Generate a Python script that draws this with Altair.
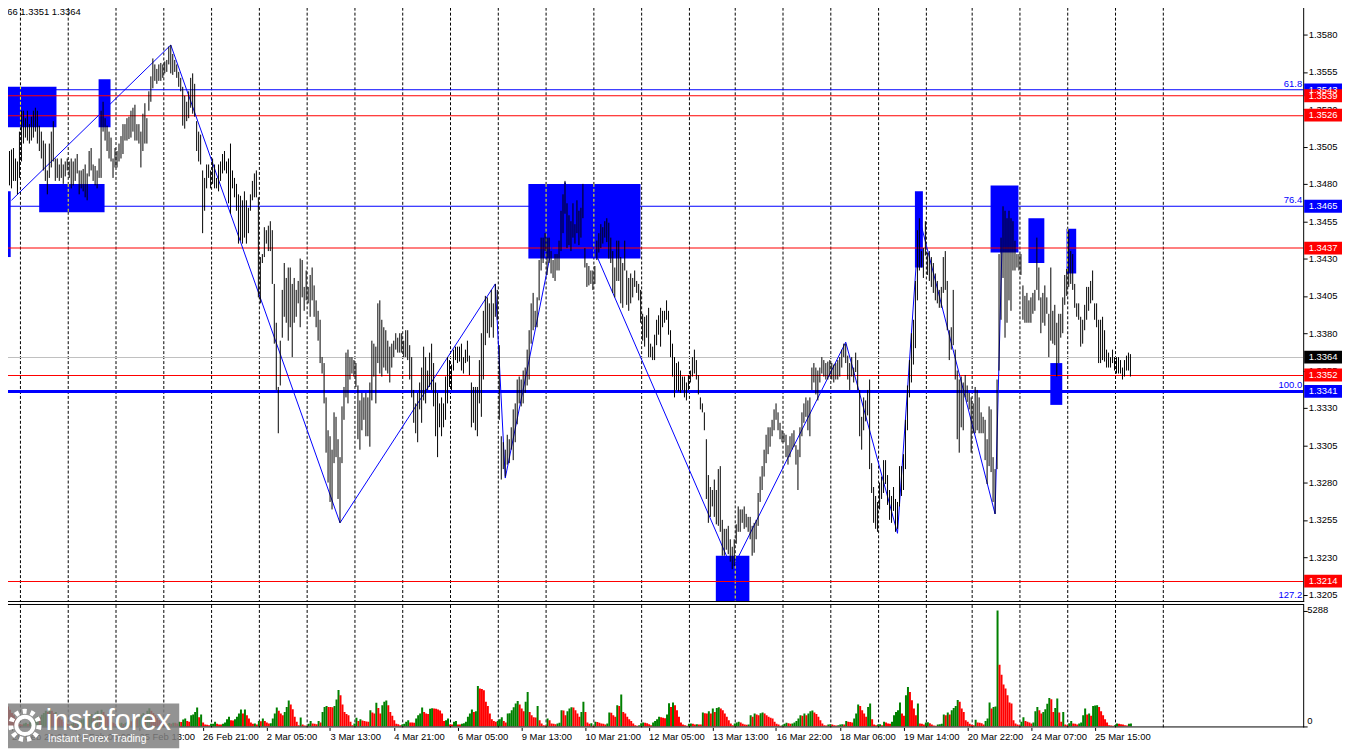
import altair as alt
import pandas as pd

# ---------------- data (prices in pips: 13502 -> 1.3502) ----------------
highs = [
    13495, 13502, 13513, 13504, 13502, 13503, 13504, 13497, 13495, 13515,
    13529, 13529, 13524, 13529, 13520, 13525, 13529, 13531, 13529, 13519,
    13515, 13509, 13507, 13489, 13507, 13515, 13522, 13497, 13497, 13493,
    13497, 13493, 13495, 13497, 13495, 13497, 13495, 13497, 13500, 13489,
    13489, 13490, 13493, 13487, 13502, 13504, 13493, 13492, 13489, 13497,
    13529, 13535, 13524, 13519, 13515, 13511, 13497, 13504, 13502, 13507,
    13512, 13520, 13520, 13524, 13525, 13529, 13531, 13533, 13520, 13520,
    13515, 13527, 13534, 13524, 13542, 13552, 13564, 13560, 13557, 13560,
    13561, 13560, 13562, 13563, 13572, 13573, 13567, 13563, 13560, 13555,
    13551, 13545, 13539, 13535, 13542, 13551, 13554, 13547, 13522, 13515,
    13513, 13489, 13484, 13493, 13493, 13489, 13497, 13493, 13484, 13493,
    13495, 13500, 13502, 13495, 13497, 13507, 13489, 13484, 13480, 13473,
    13472, 13469, 13475, 13469, 13464, 13473, 13482, 13487, 13489, 13471,
    13431, 13433, 13451, 13449, 13452, 13455, 13449, 13413, 13387, 13344,
    13375, 13409, 13427, 13417, 13424, 13424, 13413, 13417, 13409, 13415,
    13430, 13429, 13411, 13422, 13411, 13419, 13424, 13412, 13402, 13395,
    13389, 13364, 13360, 13337, 13315, 13311, 13302, 13327, 13324, 13309,
    13297, 13331, 13344, 13367, 13369, 13364, 13364, 13362, 13360, 13345,
    13335, 13340, 13337, 13340, 13337, 13347, 13375, 13373, 13371, 13400,
    13402, 13389, 13384, 13382, 13375, 13371, 13373, 13375, 13380, 13377,
    13380, 13380, 13375, 13382, 13382, 13372, 13364, 13342, 13333, 13340,
    13347, 13357, 13371, 13364, 13355, 13367, 13373, 13360, 13347, 13340,
    13333, 13337, 13333, 13351, 13364, 13362, 13359, 13369, 13371, 13371,
    13371, 13373, 13364, 13369, 13375, 13365, 13347, 13344, 13344, 13344,
    13362, 13380, 13395, 13405, 13404, 13400, 13409, 13400, 13413, 13409,
    13372, 13311, 13307, 13302, 13312, 13309, 13317, 13329, 13333, 13349,
    13351, 13349, 13355, 13357, 13369, 13382, 13400, 13407, 13395, 13404,
    13429, 13444, 13444, 13447, 13444, 13444, 13435, 13429, 13433, 13433,
    13442, 13462, 13473, 13482, 13467, 13459, 13455, 13467, 13453, 13469,
    13462, 13464, 13480, 13437, 13427, 13425, 13422, 13422, 13425, 13442,
    13447, 13453, 13451, 13455, 13457, 13454, 13444, 13435, 13424, 13442,
    13442, 13431, 13427, 13442, 13422, 13417, 13420, 13417, 13422, 13415,
    13413, 13409, 13393, 13391, 13392, 13397, 13373, 13371, 13379, 13389,
    13392, 13397, 13395, 13395, 13402, 13395, 13382, 13373, 13364, 13360,
    13361, 13355, 13351, 13351, 13347, 13352, 13355, 13364, 13369, 13362,
    13352, 13337, 13333, 13327, 13309, 13285, 13277, 13275, 13282, 13275,
    13289, 13291, 13255, 13249, 13249, 13251, 13242, 13237, 13242, 13252,
    13264, 13262, 13262, 13264, 13259, 13257, 13257, 13251, 13253, 13255,
    13273, 13284, 13291, 13302, 13312, 13317, 13317, 13322, 13329, 13333,
    13327, 13320, 13315, 13313, 13312, 13305, 13311, 13313, 13315, 13305,
    13302, 13317, 13327, 13333, 13337, 13335, 13337, 13357, 13360, 13357,
    13355, 13357, 13364, 13362, 13360, 13361, 13362, 13360, 13359, 13360,
    13362, 13364, 13369, 13373, 13373, 13365, 13360, 13364, 13357, 13367,
    13362, 13342, 13324, 13337, 13335, 13342, 13349, 13293, 13277, 13271,
    13267, 13280, 13284, 13295, 13295, 13285, 13275, 13271, 13277, 13269,
    13267, 13291, 13291, 13299, 13322, 13345, 13362, 13380, 13389, 13415,
    13449, 13457, 13435, 13437, 13455, 13434, 13435, 13431, 13427, 13420,
    13415, 13409, 13411, 13431, 13435, 13415, 13382, 13384, 13409, 13369,
    13355, 13349, 13351, 13347, 13352, 13345, 13340, 13337, 13333, 13344,
    13342, 13337, 13327, 13324, 13322, 13309, 13331, 13329, 13297, 13289,
    13349, 13433, 13444, 13465, 13462, 13457, 13462, 13457, 13455, 13442,
    13433, 13433, 13433, 13412, 13405, 13407, 13402, 13404, 13407, 13409,
    13444, 13424, 13404, 13407, 13412, 13404, 13393, 13424, 13395, 13399,
    13387, 13393, 13393, 13404, 13419, 13423, 13449, 13435, 13433, 13413,
    13400, 13400, 13391, 13389, 13399, 13411, 13411, 13415, 13422, 13400,
    13400, 13389, 13389, 13391, 13382, 13369, 13367, 13364, 13369, 13364,
    13364, 13364, 13362, 13357, 13362, 13365, 13367, 13366,
]

lows = [
    13469, 13465, 13460, 13467, 13479, 13477, 13482, 13482, 13473, 13484,
    13495, 13507, 13511, 13509, 13507, 13509, 13511, 13515, 13507, 13502,
    13497, 13489, 13482, 13473, 13484, 13491, 13495, 13482, 13484, 13482,
    13484, 13480, 13485, 13489, 13484, 13477, 13479, 13482, 13487, 13473,
    13477, 13475, 13471, 13469, 13485, 13489, 13482, 13479, 13477, 13484,
    13484, 13515, 13509, 13502, 13497, 13495, 13484, 13491, 13491, 13495,
    13497, 13500, 13509, 13509, 13510, 13511, 13515, 13509, 13509, 13507,
    13491, 13502, 13507, 13507, 13529, 13535, 13544, 13549, 13547, 13549,
    13549, 13551, 13554, 13555, 13560, 13554, 13553, 13555, 13551, 13545,
    13542, 13519, 13517, 13522, 13524, 13531, 13527, 13525, 13502, 13495,
    13493, 13447, 13462, 13477, 13484, 13477, 13480, 13477, 13477, 13475,
    13482, 13487, 13489, 13487, 13467, 13460, 13477, 13471, 13462, 13440,
    13442, 13440, 13444, 13440, 13447, 13462, 13469, 13471, 13471, 13404,
    13400, 13427, 13431, 13440, 13435, 13435, 13413, 13373, 13342, 13313,
    13345, 13377, 13391, 13387, 13375, 13384, 13364, 13387, 13391, 13400,
    13384, 13404, 13395, 13402, 13400, 13391, 13402, 13391, 13384, 13375,
    13360, 13353, 13333, 13300, 13280, 13267, 13262, 13293, 13297, 13269,
    13253, 13293, 13322, 13337, 13333, 13349, 13353, 13351, 13344, 13309,
    13302, 13315, 13322, 13311, 13311, 13304, 13335, 13351, 13333, 13360,
    13353, 13351, 13357, 13355, 13353, 13347, 13357, 13364, 13369, 13367,
    13367, 13367, 13364, 13364, 13362, 13349, 13337, 13320, 13313, 13307,
    13329, 13320, 13335, 13333, 13342, 13344, 13342, 13331, 13311, 13297,
    13317, 13311, 13317, 13322, 13333, 13344, 13342, 13355, 13362, 13360,
    13361, 13355, 13353, 13360, 13361, 13352, 13317, 13320, 13315, 13311,
    13333, 13324, 13349, 13372, 13380, 13377, 13384, 13377, 13391, 13389,
    13322, 13282, 13289, 13284, 13292, 13293, 13302, 13295, 13307, 13319,
    13333, 13331, 13333, 13340, 13345, 13349, 13373, 13382, 13384, 13384,
    13402, 13422, 13427, 13435, 13419, 13427, 13420, 13417, 13415, 13422,
    13422, 13435, 13447, 13460, 13437, 13439, 13435, 13444, 13440, 13447,
    13439, 13444, 13457, 13424, 13411, 13412, 13413, 13409, 13413, 13429,
    13434, 13437, 13440, 13444, 13441, 13430, 13427, 13407, 13404, 13415,
    13415, 13400, 13397, 13422, 13399, 13395, 13400, 13404, 13411, 13407,
    13402, 13387, 13375, 13371, 13377, 13364, 13364, 13362, 13362, 13372,
    13379, 13371, 13384, 13387, 13389, 13379, 13364, 13351, 13337, 13342,
    13341, 13340, 13342, 13337, 13335, 13342, 13347, 13351, 13353, 13349,
    13339, 13329, 13327, 13315, 13269, 13253, 13257, 13264, 13257, 13252,
    13251, 13247, 13231, 13231, 13235, 13232, 13227, 13222, 13224, 13239,
    13247, 13247, 13253, 13249, 13250, 13247, 13242, 13231, 13233, 13242,
    13251, 13267, 13275, 13284, 13293, 13299, 13304, 13311, 13315, 13322,
    13315, 13309, 13307, 13307, 13297, 13292, 13297, 13302, 13304, 13292,
    13275, 13297, 13311, 13320, 13324, 13315, 13311, 13342, 13347, 13339,
    13335, 13347, 13353, 13351, 13349, 13349, 13351, 13349, 13347, 13349,
    13349, 13351, 13357, 13364, 13360, 13349, 13342, 13351, 13347, 13354,
    13342, 13311, 13302, 13315, 13321, 13325, 13289, 13273, 13253, 13249,
    13247, 13262, 13269, 13273, 13279, 13265, 13255, 13253, 13261, 13247,
    13249, 13264, 13271, 13275, 13289, 13315, 13337, 13347, 13359, 13370,
    13402, 13422, 13424, 13417, 13432, 13419, 13415, 13411, 13407, 13402,
    13400, 13397, 13397, 13407, 13409, 13382, 13362, 13369, 13372, 13349,
    13309, 13300, 13317, 13315, 13337, 13334, 13329, 13300, 13313, 13313,
    13315, 13313, 13313, 13313, 13295, 13279, 13291, 13287, 13267, 13259,
    13289, 13355, 13389, 13417, 13377, 13387, 13402, 13395, 13422, 13422,
    13424, 13422, 13419, 13389, 13387, 13387, 13387, 13387, 13393, 13395,
    13409, 13402, 13380, 13387, 13385, 13393, 13364, 13375, 13373, 13372,
    13351, 13360, 13377, 13380, 13399, 13405, 13411, 13413, 13409, 13397,
    13391, 13389, 13371, 13373, 13382, 13389, 13395, 13400, 13402, 13389,
    13384, 13360, 13360, 13362, 13361, 13357, 13357, 13357, 13360, 13355,
    13353, 13353, 13353, 13349, 13351, 13355, 13355, 13351,
]

volumes = [
    700, 650, 2050, 900, 750, 600, 500, 350, 200, 100,
    80, 120, 150, 100, 180, 220, 300, 380, 450, 420,
    520, 600, 700, 650, 820, 700, 600, 650, 500, 400,
    300, 200, 150, 100, 80, 110, 150, 120, 200, 260,
    300, 350, 420, 380, 500, 560, 480, 620, 700, 560,
    750, 650, 500, 420, 300, 200, 150, 100, 80, 120,
    150, 100, 160, 200, 260, 220, 320, 400, 360, 450,
    520, 600, 540, 700, 820, 700, 600, 500, 380, 280,
    200, 120, 80, 100, 140, 110, 160, 150, 120, 200,
    195, 300, 350, 230, 200, 500, 530, 650, 850, 410,
    530, 170, 75, 60, 45, 105, 110, 200, 105, 75,
    70, 105, 170, 320, 425, 270, 260, 320, 425, 580,
    760, 580, 760, 500, 350, 170, 105, 120, 75, 230,
    225, 350, 230, 170, 120, 135, 350, 580, 850, 700,
    580, 500, 650, 880, 1170, 990, 775, 425, 200, 45,
    400, 75, 30, 20, 105, 230, 120, 105, 90, 230,
    170, 650, 880, 925, 880, 870, 860, 925, 1215, 1655,
    1410, 990, 650, 560, 500, 200, 45, 120, 380, 230,
    320, 260, 230, 215, 200, 730, 620, 580, 1065, 835,
    580, 955, 1110, 1170, 955, 650, 470, 275, 105, 90,
    45, 75, 105, 200, 270, 170, 165, 150, 350, 500,
    580, 850, 650, 580, 560, 800, 820, 805, 790, 760,
    715, 580, 230, 270, 350, 80, 70, 200, 230, 75,
    70, 105, 135, 200, 425, 580, 760, 650, 685, 1840,
    1720, 1700, 1640, 1110, 925, 580, 320, 230, 200, 230,
    320, 410, 230, 170, 580, 590, 730, 865, 1030, 1155,
    990, 805, 685, 1110, 1565, 650, 500, 410, 395, 925,
    270, 120, 45, 30, 350, 270, 120, 105, 90, 120,
    150, 730, 715, 500, 685, 805, 865, 850, 730, 580,
    425, 650, 1110, 650, 170, 105, 135, 20, 200, 185,
    150, 120, 105, 75, 120, 620, 610, 500, 425, 955,
    925, 1445, 650, 580, 425, 320, 230, 120, 45, 20,
    45, 135, 170, 150, 135, 90, 45, 170, 230, 320,
    425, 410, 380, 365, 530, 1050, 880, 1080, 955, 730,
    425, 170, 75, 45, 20, 105, 120, 105, 75, 90,
    75, 70, 620, 590, 580, 685, 580, 805, 650, 835,
    865, 805, 730, 580, 425, 270, 120, 45, 120, 170,
    200, 170, 105, 75, 60, 75, 500, 425, 580, 530,
    500, 590, 620, 580, 500, 425, 380, 350, 200, 105,
    75, 20, 45, 105, 150, 135, 105, 120, 170, 230,
    350, 500, 470, 580, 500, 580, 685, 715, 620, 560,
    425, 270, 120, 45, 30, 75, 90, 75, 45, 30,
    45, 75, 90, 75, 230, 200, 185, 170, 350, 580,
    990, 925, 730, 580, 425, 880, 1030, 320, 75, 45,
    75, 90, 45, 200, 170, 120, 105, 200, 500, 650,
    730, 1080, 580, 470, 1410, 1795, 1565, 1185, 805, 500,
    1030, 120, 105, 75, 170, 180, 135, 75, 30, 20,
    75, 90, 105, 530, 500, 620, 530, 730, 835, 925,
    1200, 1110, 805, 650, 270, 200, 105, 60, 45, 290,
    170, 150, 135, 75, 230, 350, 1080, 805, 870, 900,
    5288, 2810, 2355, 1900, 1720, 1410, 1080, 1030, 270, 120,
    75, 45, 200, 410, 230, 200, 170, 120, 170, 685,
    880, 730, 580, 650, 775, 1020, 1290, 1230, 650, 835,
    1260, 620, 200, 650, 75, 45, 135, 230, 120, 105,
    75, 120, 170, 500, 805, 530, 580, 470, 925, 940,
    955, 880, 685, 500, 320, 170, 45, 30, 20, 45,
    120, 105, 90, 75, 45, 30, 105, 120,
]

# day separators (bar positions)
grid_idx = [9.5, 33.5, 57.5, 81.5, 105.5, 129.5, 153.5, 177.5, 201.5, 225.5,
            249.5, 273.5, 297.5, 321.5, 345.5, 368.5, 392.5, 416.5, 440.5,
            464.5, 487.5, 511.5, 535.5, 559.5, 583.5]

# time-axis labels (bar positions)
tick_idx = [5, 37, 69, 101, 133, 165, 197, 229, 261, 293, 325, 357, 389, 421,
            453, 485, 517, 549]
tick_lbl = ["20 Feb 21:00", "24 Feb 05:00", "25 Feb 13:00", "26 Feb 21:00",
            "2 Mar 05:00", "3 Mar 13:00", "4 Mar 21:00", "6 Mar 05:00",
            "9 Mar 13:00", "10 Mar 21:00", "12 Mar 05:00", "13 Mar 13:00",
            "16 Mar 22:00", "18 Mar 06:00", "19 Mar 14:00", "20 Mar 22:00",
            "24 Mar 07:00", "25 Mar 15:00"]

# blue zones
zone_start = [-0.75, 0.6, 18.9, 48.75, 264.6, 358.75, 458.75, 496.75, 515.75, 534.9, 526.75]
zone_end = [4.6, 27.6, 51.75, 54.75, 320.9, 375.6, 462.75, 510.75, 523.75, 539.75, 532.75]
zone_top = [1.3475, 1.3545, 1.3480, 1.3550, 1.3480, 1.3231, 1.3475, 1.3479, 1.3457, 1.3450, 1.3360]
zone_bottom = [1.3431, 1.3518, 1.3461, 1.3518, 1.3430, 1.3200, 1.3424, 1.3434, 1.3427, 1.3420, 1.3332]

# zigzag
zig_idx = [5, 85, 170, 248, 253, 283, 367, 424, 450, 461, 499, 503]
zig_price = [1.3469, 1.3573, 1.3253, 1.3413, 1.3283, 1.3481, 1.3222, 1.3374,
             1.3246, 1.3457, 1.3259, 1.3465]

# horizontal levels
level_price = [1.3543, 1.3539, 1.3526, 1.3465, 1.3437, 1.3364, 1.3352, 1.3341, 1.3214]
level_kind = ["fib", "level", "level", "fib", "level", "bid", "level", "fib", "level"]

fib_pct = ["61.8", "76.4", "100.0", "127.2"]
fib_price = [1.3543, 1.3465, 1.3341, 1.3198]

price_ticks = [1.3205, 1.3230, 1.3255, 1.3280, 1.3305, 1.3330, 1.3355, 1.3380,
               1.3405, 1.3430, 1.3455, 1.3480, 1.3505, 1.3530, 1.3555, 1.3580]
vol_ticks = [5288, 0]
vol_tick_lbl = ["5288", "0"]
info_text = "1.3366 1.3351 1.3364"

# ---------------- layout ----------------
n = min(len(highs), len(lows), len(volumes))
idx = list(range(n))

W, HP, HV = 1309, 603, 124
FONT = "Liberation Sans"
FS = 9.5
THICK_LEVEL = 1.3341
Y_BOT, Y_TOP = 1.3200, 1.3602
PX = (Y_TOP - Y_BOT) / HP          # one pixel in price units

x_scale = alt.Scale(domain=[-0.75, 653.75], nice=False, zero=False)
y_scale = alt.Scale(domain=[Y_BOT, Y_TOP], nice=False, zero=False)
v_scale = alt.Scale(domain=[-59, 5584], nice=False, zero=False)

y_axis = alt.Axis(orient="right", values=price_ticks, format=".4f", title=None, grid=False,
                  labelFont=FONT, labelFontSize=FS, labelColor="black", labelPadding=1,
                  tickColor="black", tickSize=4, domain=False,
                  labelFlush=False, labelOverlap=False)

lbl_expr = ("[" + ",".join("'%s'" % s for s in tick_lbl) + "][indexof(["
            + ",".join(str(v) for v in tick_idx) + "], datum.value)]")
x_axis_b = alt.Axis(orient="bottom", values=tick_idx, labelExpr=lbl_expr, title=None,
                    grid=False, labelAlign="left", labelFont=FONT, labelFontSize=FS,
                    labelColor="black", tickColor="black", tickSize=3, labelPadding=1,
                    domain=False, labelFlush=False, labelOverlap=False, labelBound=False)
v_axis = alt.Axis(orient="right", values=vol_ticks, labels=False, title=None, grid=False,
                  tickSize=4, tickColor="black", domain=False)


def X(f):
    return alt.X(f, scale=x_scale, axis=None)


def Y(f):
    return alt.Y(f, scale=y_scale, axis=y_axis)


def XB(f):
    return alt.X(f, scale=x_scale, axis=x_axis_b)


def VY(f):
    return alt.Y(f, scale=v_scale, axis=v_axis)


bars_df = pd.DataFrame({"i": idx,
                        "high": [highs[k] / 10000 for k in idx],
                        "low": [lows[k] / 10000 for k in idx]})
vol_dir = ["up" if (k == 0 or volumes[k] > volumes[k - 1]) else "down" for k in idx]
vol_df = pd.DataFrame({"i": idx, "vol": volumes[:n], "dir": vol_dir})
grid_df = pd.DataFrame({"i": grid_idx})
zone_df = pd.DataFrame({"s": zone_start, "e": zone_end, "top": zone_top, "bot": zone_bottom})
# parts of the day separators that fall inside a zone (drawn inverted, in yellow)
seg_rows = [{"i": g, "top": zone_top[k], "bot": zone_bottom[k]}
            for k in range(len(zone_start)) for g in grid_idx
            if zone_start[k] < g < zone_end[k]]
seg_df = pd.DataFrame(seg_rows)
zig_df = pd.DataFrame({"i": zig_idx, "price": zig_price})
lvl_df = pd.DataFrame({"price": level_price, "kind": level_kind})
fib_df = pd.DataFrame({"pct": fib_pct, "price": fib_price})
vt_df = pd.DataFrame({"v": vol_ticks, "lbl": vol_tick_lbl})
one = pd.DataFrame({"t": [info_text]})

line_col = "datum.kind == 'fib' ? '#0000ff' : (datum.kind == 'bid' ? '#c0c0c0' : '#ff0000')"
tag_col = "datum.kind == 'fib' ? '#0000ff' : (datum.kind == 'bid' ? '#000000' : '#ff0000')"
# level lines drawn as pixel-snapped thin bands (1 pip = 1.5 px)
par_expr = "round((%r - datum.price) * 10000) %% 2" % Y_TOP
thick_expr = "datum.price == %r ? 1 : 0" % THICK_LEVEL
top_expr = "datum.price + (datum.par == 1 ? 0.5 : 0) * %r + datum.thick * %r" % (PX, PX)
bot_expr = "datum.price - (datum.par == 1 ? 0.5 : 1) * %r - datum.thick * %r" % (PX, PX)

# ---------------- price panel ----------------
grid_p = alt.Chart(grid_df).mark_rule(color="black", strokeWidth=1, strokeDash=[3, 2]).encode(
    x=X("i:Q"), y=alt.value(1), y2=alt.value(HP))
zones = alt.Chart(zone_df).mark_rect(color="#0000ff", clip=True).encode(
    x=X("s:Q"), x2="e:Q", y=Y("top:Q"), y2="bot:Q")
segs = alt.Chart(seg_df).mark_rule(color="#ffff00", strokeWidth=1, strokeDash=[3, 2]).encode(
    x=X("i:Q"), y=Y("top:Q"), y2="bot:Q")
levels = alt.Chart(lvl_df).transform_calculate(
    col=line_col, par=par_expr, thick=thick_expr
).transform_calculate(
    ltop=top_expr, lbot=bot_expr
).mark_rect().encode(
    x=alt.value(2), x2=alt.value(W),
    y=Y("ltop:Q"), y2="lbot:Q",
    color=alt.Color("col:N", scale=None))
zig = alt.Chart(zig_df).mark_line(color="#0000ff", strokeWidth=1, clip=True).encode(
    x=X("i:Q"), y=Y("price:Q"))
bars = alt.Chart(bars_df).mark_rule(color="black", strokeWidth=1, clip=True).encode(
    x=X("i:Q"), y=Y("high:Q"), y2="low:Q")
fib_txt = alt.Chart(fib_df).transform_filter("datum.price >= 1.32").mark_text(
    color="#0000ff", align="right", baseline="bottom", dy=-1, font=FONT, fontSize=FS).encode(
    x=alt.value(W - 1), y=Y("price:Q"), text="pct:N")
fib_txt2 = alt.Chart(fib_df).transform_filter("datum.price < 1.32").mark_text(
    color="#0000ff", align="right", baseline="bottom", dy=-5, font=FONT, fontSize=FS).encode(
    x=alt.value(W - 1), y=Y("price:Q"), text="pct:N")
tags = alt.Chart(lvl_df).transform_calculate(
    top="datum.price + 0.00043", bot="datum.price - 0.00043", col=tag_col).mark_rect().encode(
    x=alt.value(W + 1), x2=alt.value(W + 39), y=Y("top:Q"), y2="bot:Q",
    color=alt.Color("col:N", scale=None))
tag_txt = alt.Chart(lvl_df).transform_calculate(lbl="format(datum.price, '.4f')").mark_text(
    color="white", font=FONT, fontSize=FS, align="center", baseline="middle").encode(
    x=alt.value(W + 20), y=Y("price:Q"), text="lbl:N")
info = alt.Chart(one).mark_text(align="right", baseline="middle", font=FONT, fontSize=FS,
                                color="black", clip=True).encode(
    x=alt.value(81), y=alt.value(10.5), text="t:N")
border_pb = alt.Chart(one).mark_rule(color="black", strokeWidth=1).encode(
    x=alt.value(2), x2=alt.value(W + 1), y=alt.value(HP - 0.5))
border_pr = alt.Chart(one).mark_rule(color="black", strokeWidth=1).encode(
    x=alt.value(W + 0.5), y=alt.value(1), y2=alt.value(HP))

price = alt.layer(grid_p, zones, segs, levels, zig, bars, fib_txt, fib_txt2,
                  border_pb, border_pr, tags, tag_txt, info).properties(width=W, height=HP)

# ---------------- volume panel ----------------
grid_v = alt.Chart(grid_df).mark_rule(color="black", strokeWidth=1, strokeDash=[3, 2]).encode(
    x=XB("i:Q"), y=alt.value(1), y2=alt.value(HV))
vbars = alt.Chart(vol_df).transform_calculate(
    x0="datum.i - 0.25", x1="datum.i + 0.75",
    col="datum.dir == 'up' ? '#008000' : '#ff0000'").mark_rect(clip=True).encode(
    x=XB("x0:Q"), x2="x1:Q", y=VY("vol:Q"), y2=alt.datum(0),
    color=alt.Color("col:N", scale=None))
border_vt = alt.Chart(one).mark_rule(color="black", strokeWidth=1).encode(
    x=alt.value(2), x2=alt.value(W + 1), y=alt.value(0.5))
border_vb = alt.Chart(one).mark_rule(color="black", strokeWidth=1).encode(
    x=alt.value(2), x2=alt.value(W + 1), y=alt.value(HV - 0.5))
border_vr = alt.Chart(one).mark_rule(color="black", strokeWidth=1).encode(
    x=alt.value(W + 0.5), y=alt.value(1), y2=alt.value(HV))
vt1 = alt.Chart(vt_df).transform_filter("datum.v > 0").mark_text(
    align="left", baseline="middle", font=FONT, fontSize=FS, color="black").encode(
    x=alt.value(W + 4), y=VY("v:Q"), text="lbl:N")
vt2 = alt.Chart(vt_df).transform_filter("datum.v == 0").mark_text(
    align="left", baseline="middle", dy=-5, font=FONT, fontSize=FS, color="black").encode(
    x=alt.value(W + 4), y=VY("v:Q"), text="lbl:N")

logo_box = alt.Chart(one).mark_rect(color="#808080", opacity=0.85).encode(
    x=alt.value(0), x2=alt.value(180), y=alt.value(100), y2=alt.value(145))
logo_ring = alt.Chart(one).mark_point(shape="circle", filled=False, color="white",
                                      strokeWidth=4, size=300, opacity=1).encode(
    x=alt.value(25), y=alt.value(122))
logo_teeth = alt.Chart(one).mark_point(shape="circle", filled=False, color="white",
                                       strokeWidth=5, size=800, strokeDash=[4, 4],
                                       opacity=1).encode(
    x=alt.value(25), y=alt.value(122))
logo_t1 = alt.Chart(pd.DataFrame({"t": ["instaforex"]})).mark_text(
    align="left", baseline="alphabetic", font=FONT, fontSize=29, color="white").encode(
    x=alt.value(46), y=alt.value(127), text="t:N")
logo_t2 = alt.Chart(pd.DataFrame({"t": ["Instant Forex Trading"]})).mark_text(
    align="left", baseline="alphabetic", font=FONT, fontSize=10.5, color="white").encode(
    x=alt.value(48), y=alt.value(139), text="t:N")

volume = alt.layer(grid_v, vbars, border_vt, border_vb, border_vr, vt1, vt2, logo_box,
                   logo_ring, logo_teeth, logo_t1, logo_t2).properties(width=W, height=HV)

chart = alt.vconcat(price, volume, spacing=2, bounds="flush").properties(
    padding={"left": -8, "top": -8, "right": 0, "bottom": 0}
).configure(font=FONT).configure_view(strokeWidth=0)

chart.save("out.html", embed_options={"renderer": "svg", "actions": False})
